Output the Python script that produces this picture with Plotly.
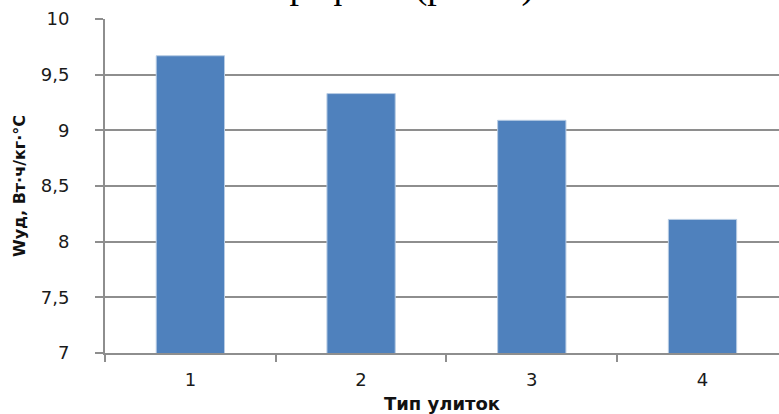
import plotly.graph_objects as go

# Specific heat consumption by snail type
snail_types = ["1", "2", "3", "4"]
w_specific = [9.67, 9.33, 9.09, 8.20]

y_ticks = [7, 7.5, 8, 8.5, 9, 9.5, 10]
y_tick_labels = ["7", "7,5", "8", "8,5", "9", "9,5", "10"]

x_title = "Тип улиток"
y_title = "Wуд, Вт·ч/кг·°С"
caption_line = "графика (рис. 2)"

W, H = 779, 414
M_L, M_R, M_T, M_B = 105, 0, 19, 61

grid_color = "#8e8e8e"
bar_color = "#4f81bd"
tick_font = dict(family="DejaVu Sans", size=18, color="#1a1a1a")

fig = go.Figure(
    go.Bar(
        x=snail_types,
        y=w_specific,
        width=0.40,
        marker=dict(color=bar_color, line=dict(color="#b8cce4", width=1)),
    )
)

fig.update_layout(
    width=W,
    height=H,
    margin=dict(l=M_L, r=M_R, t=M_T, b=M_B, pad=0),
    paper_bgcolor="white",
    plot_bgcolor="white",
    showlegend=False,
    bargap=0.6,
    xaxis=dict(
        type="category",
        range=[-0.5, 3.448],
        tickson="boundaries",
        ticks="outside",
        ticklen=7,
        tickwidth=1.5,
        tickcolor=grid_color,
        showline=True,
        linecolor=grid_color,
        linewidth=2,
        showgrid=False,
        tickfont=tick_font,
        ticklabelstandoff=9,
        title=dict(
            text=x_title,
            font=dict(family="DejaVu Sans", size=18, color="#111111", weight="bold"),
            standoff=9,
        ),
    ),
    yaxis=dict(
        range=[7, 10],
        tickvals=y_ticks,
        ticktext=y_tick_labels,
        ticks="outside",
        ticklen=8,
        tickwidth=1.5,
        tickcolor=grid_color,
        showline=True,
        linecolor=grid_color,
        linewidth=2,
        showgrid=True,
        gridcolor=grid_color,
        gridwidth=1.5,
        zeroline=False,
        tickfont=tick_font,
        ticklabelstandoff=22,
        title=dict(
            text=y_title,
            font=dict(family="DejaVu Sans", size=16, color="#111111", weight="bold"),
            standoff=11,
        ),
    ),
)

# Text line of the page above the chart, mostly outside the frame
fig.add_annotation(
    text=caption_line,
    xref="paper",
    yref="paper",
    x=(272 - M_L) / (W - M_L - M_R),
    y=1,
    xanchor="left",
    yanchor="bottom",
    yshift=10,
    showarrow=False,
    font=dict(family="Liberation Serif", size=38, color="black"),
)

fig.write_html("out.html")
